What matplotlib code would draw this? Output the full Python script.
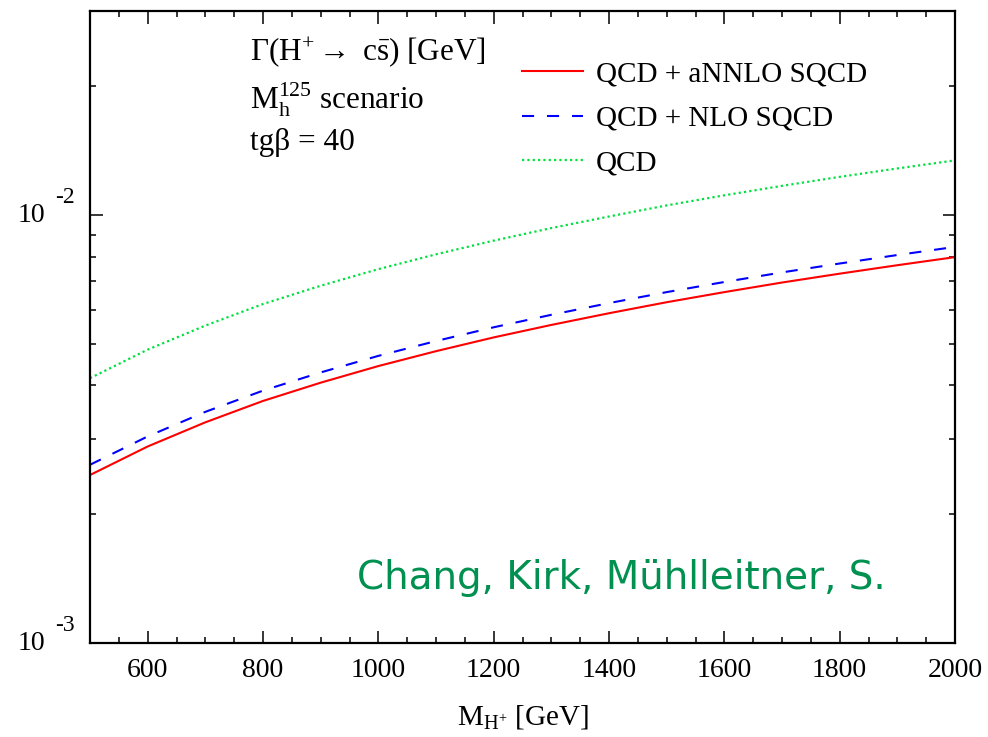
import numpy as np
import matplotlib
matplotlib.use("Agg")
import matplotlib.pyplot as plt
from matplotlib.ticker import FixedLocator, NullFormatter

plt.rcParams["font.family"] = ["Liberation Serif", "DejaVu Serif"]
plt.rcParams["mathtext.fontset"] = "custom"
plt.rcParams["mathtext.rm"] = "Liberation Serif"
plt.rcParams["mathtext.it"] = "Liberation Serif:italic"
plt.rcParams["mathtext.bf"] = "Liberation Serif:bold"

# Ширины распада H+ -> c sbar, tg(beta) = 40
mh = [500, 600, 700, 800, 900, 1000, 1100, 1200, 1300, 1400,
      1500, 1600, 1700, 1800, 1900, 2000]
width_annlo = [0.00247, 0.00288, 0.00328, 0.00368, 0.00406, 0.00444,
               0.00481, 0.00518, 0.00554, 0.00590, 0.00626, 0.00661,
               0.00696, 0.00730, 0.00764, 0.00798]
width_nlo = [0.00261, 0.00304, 0.00347, 0.00389, 0.00429, 0.00469,
             0.00508, 0.00547, 0.00585, 0.00623, 0.00661, 0.00698,
             0.00735, 0.00771, 0.00807, 0.00843]
width_qcd = [0.00416, 0.00485, 0.00552, 0.00620, 0.00684, 0.00748,
             0.00810, 0.00872, 0.00933, 0.00993, 0.01054, 0.01113,
             0.01171, 0.01229, 0.01286, 0.01343]

x_ticks = [600, 800, 1000, 1200, 1400, 1600, 1800, 2000]
y_major = [1e-3, 1e-2]
y_exp = ["-3", "-2"]

fig = plt.figure(figsize=(9.88, 7.37), dpi=100)
ax = fig.add_axes([0.0911, 0.1275, 0.8755, 0.8575])

ax.plot(mh, width_annlo, color="#ff0000", lw=1.5, label="QCD + aNNLO SQCD")
ax.plot(mh, width_nlo, color="#0000ff", lw=1.5, linestyle=(0, (5.8, 6.2)),
        label="QCD + NLO SQCD")
ax.plot(mh, width_qcd, color="#00e040", lw=1.6, linestyle=(0, (1, 1.4)),
        label="QCD")

ax.set_yscale("log")
ax.set_xlim(500, 2000)
ax.set_ylim(1e-3, 0.03)

ax.xaxis.set_major_locator(FixedLocator(x_ticks))
ax.xaxis.set_minor_locator(FixedLocator(np.arange(550, 2000, 50)))
ax.yaxis.set_major_locator(FixedLocator(y_major))
ax.yaxis.set_minor_locator(FixedLocator([k * 1e-3 for k in range(2, 10)] + [2e-2, 3e-2]))
ax.yaxis.set_major_formatter(NullFormatter())
ax.yaxis.set_minor_formatter(NullFormatter())

ax.tick_params(which="both", direction="in", top=True, right=True, width=1.1)
ax.tick_params(which="major", length=9)
ax.tick_params(which="minor", length=4.5)
ax.tick_params(axis="x", labelsize=20, pad=11)
for s in ax.spines.values():
    s.set_linewidth(1.6)

# подписи оси y в стиле gnuplot: "10" и показатель отдельно
for v, e in zip(y_major, y_exp):
    ax.annotate("10", xy=(0, v), xycoords=("axes fraction", "data"),
                xytext=(-32, 0), textcoords="offset points",
                ha="right", va="center", fontsize=20)
    ax.annotate(e, xy=(0, v), xycoords=("axes fraction", "data"),
                xytext=(-25, 12.5), textcoords="offset points",
                ha="left", va="center", fontsize=17)

ax.set_xlabel(r"$\mathrm{M}_{\mathrm{H}^{+}}$ [GeV]", fontsize=21, labelpad=14)

ax.text(0.185, 0.935, r"$\Gamma(\mathrm{H}^{+} \rightarrow\ \mathrm{c}\bar{\mathrm{s}})$ [GeV]",
        transform=ax.transAxes, fontsize=22.5, va="center")
ax.text(0.185, 0.86, r"$\mathrm{M}_{\mathrm{h}}^{125}$ scenario",
        transform=ax.transAxes, fontsize=22.5, va="center")
ax.text(0.185, 0.792, "tgβ = 40", transform=ax.transAxes, fontsize=22.5, va="center")

ax.legend(loc="upper left", bbox_to_anchor=(0.499, 0.921), frameon=False,
          fontsize=21, handlelength=2.1, handletextpad=0.45,
          labelspacing=0.62, borderpad=0, borderaxespad=0)

ax.text(0.614, 0.0854, "Chang, Kirk, Mühlleitner, S.", transform=ax.transAxes,
        fontsize=28, color="#009050", family="DejaVu Sans", ha="center",
        va="baseline")

plt.savefig("out.png", dpi=100)
